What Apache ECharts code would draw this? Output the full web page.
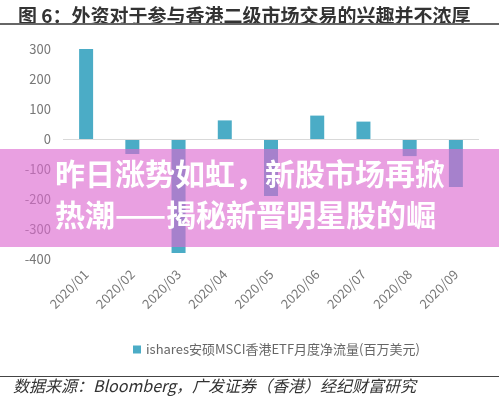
<!DOCTYPE html>
<html>
<head>
<meta charset="utf-8">
<script src="https://cdn.jsdelivr.net/npm/echarts@6/dist/echarts.min.js"></script>
<style>
html, body { margin: 0; padding: 0; background: #fff; }
#main { width: 499px; height: 397px; }
</style>
</head>
<body>
<div id="main"></div>
<script>
var months = ['2020/01', '2020/02', '2020/03', '2020/04', '2020/05', '2020/06', '2020/07', '2020/08', '2020/09'];
var netFlow = [300, -50, -380, 62, -190, 78, 58, -57, -160];
var seriesName = 'ishares安硕MSCI香港ETF月度净流量(百万美元)';
var titleText = '图 6：外资对于参与香港二级市场交易的兴趣并不浓厚';
var sourceText = '数据来源：Bloomberg，广发证券（香港）经纪财富研究';
var bannerLines = ['昨日涨势如虹，新股市场再掀', '热潮——揭秘新晋明星股的崛'];

var chart = echarts.init(document.getElementById('main'));
var cjk = '"Noto Sans CJK SC", "Noto Sans", sans-serif';

var option = {
    animation: false,
    backgroundColor: '#fff',
    title: {
        text: titleText,
        left: 13,
        top: 1,
        textStyle: { fontFamily: cjk, fontSize: 19, fontWeight: 'bold', color: '#333' }
    },
    grid: { left: 63, right: 20, top: 49, bottom: 138 },
    legend: {
        data: [seriesName],
        left: 128,
        top: 338,
        icon: 'rect',
        itemWidth: 8,
        itemHeight: 8,
        itemGap: 4,
        textStyle: { fontFamily: cjk, fontSize: 13, color: '#666' }
    },
    xAxis: {
        type: 'category',
        data: months,
        axisLine: { show: false, onZero: false },
        axisTick: { show: false },
        axisLabel: { rotate: 45, margin: 13, fontSize: 13, color: '#777', fontFamily: cjk, interval: 0 }
    },
    yAxis: {
        type: 'value',
        min: -400,
        max: 300,
        interval: 100,
        splitLine: { show: false },
        axisLine: { show: false },
        axisTick: { show: false },
        axisLabel: { margin: 12, fontSize: 13, color: '#777', fontFamily: cjk }
    },
    series: [{
        name: seriesName,
        type: 'bar',
        data: netFlow,
        barWidth: 14,
        itemStyle: { color: '#4bacc6' },
        markLine: {
            silent: true,
            symbol: 'none',
            label: { show: false },
            lineStyle: { color: '#d9d9d9', width: 1, type: 'solid' },
            data: [{ yAxis: 0 }]
        }
    }],
    graphic: [
        { type: 'rect', left: 0, top: 23, z: 10, shape: { width: 499, height: 2 }, style: { fill: '#666' } },
        { type: 'rect', left: 0, top: 376, z: 10, shape: { width: 499, height: 1 }, style: { fill: '#444' } },
        {
            type: 'text', left: 13, top: 378, z: 10,
            style: { text: sourceText, fontFamily: cjk, fontSize: 16, fontStyle: 'italic', fill: '#333' }
        },
        { type: 'rect', left: 0, top: 149, z: 100, shape: { width: 499, height: 98 }, style: { fill: 'rgba(220,105,208,0.63)' } },
        {
            type: 'text', left: 55, top: 159, z: 101,
            style: { text: bannerLines[0], fontFamily: cjk, fontSize: 30, fontWeight: 'bold', fill: '#fff' }
        },
        {
            type: 'text', left: 55, top: 200, z: 101,
            style: { text: bannerLines[1], fontFamily: cjk, fontSize: 30, fontWeight: 'bold', fill: '#fff' }
        }
    ]
};
chart.setOption(option);
</script>
</body>
</html>
